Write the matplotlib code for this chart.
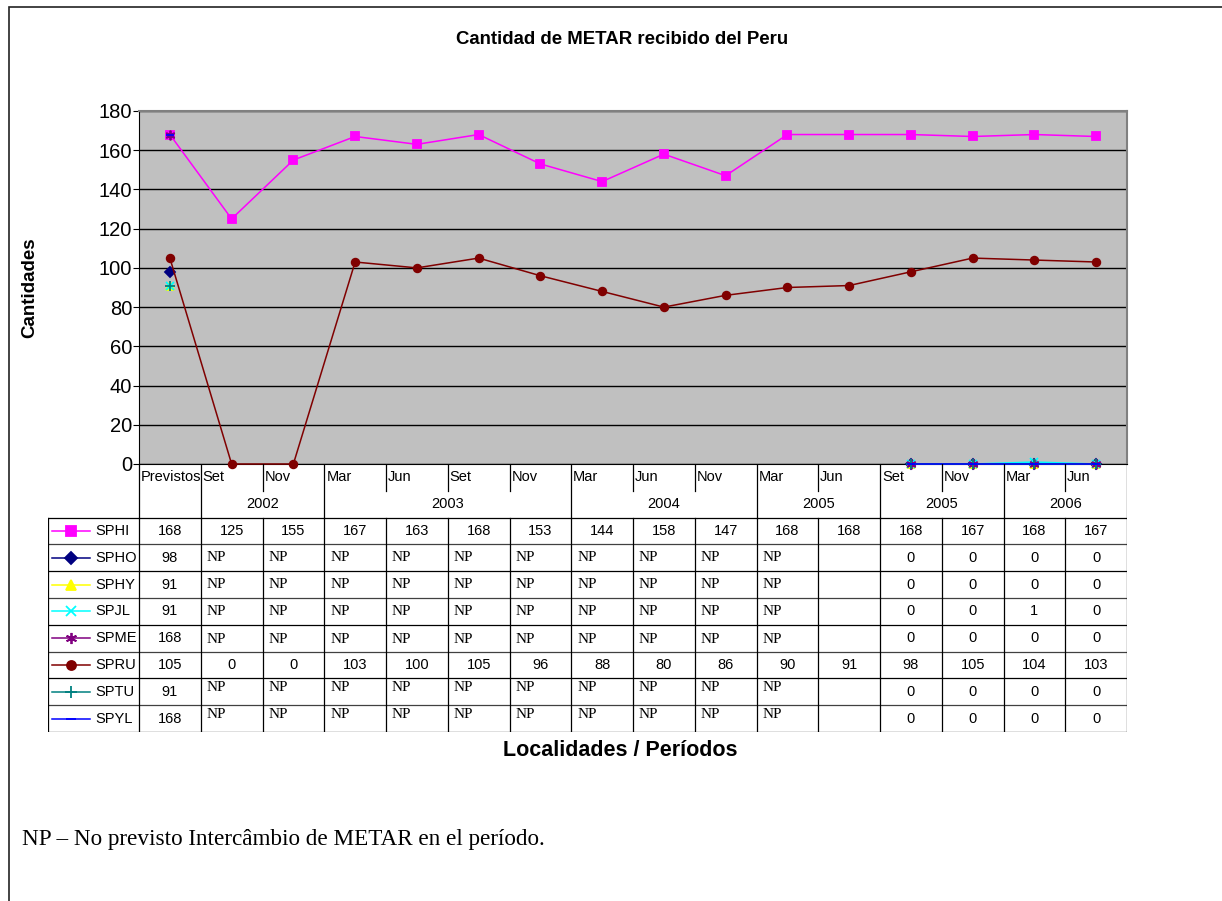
import numpy as np
import matplotlib.pyplot as plt
from matplotlib.patches import Rectangle

# categorias del eje x
periodos = ["Previstos", "Set", "Nov", "Mar", "Jun", "Set", "Nov", "Mar",
            "Jun", "Nov", "Mar", "Jun", "Set", "Nov", "Mar", "Jun"]
anos = [("2002", 1, 2), ("2003", 3, 6), ("2004", 7, 9),
        ("2005", 10, 11), ("2005", 12, 13), ("2006", 14, 15)]

# "NP" = no previsto, "" = celda vacia
estaciones = ["SPHI", "SPHO", "SPHY", "SPJL", "SPME", "SPRU", "SPTU", "SPYL"]
sphi = [168, 125, 155, 167, 163, 168, 153, 144, 158, 147, 168, 168, 168, 167, 168, 167]
spho = [98, "NP", "NP", "NP", "NP", "NP", "NP", "NP", "NP", "NP", "NP", "", 0, 0, 0, 0]
sphy = [91, "NP", "NP", "NP", "NP", "NP", "NP", "NP", "NP", "NP", "NP", "", 0, 0, 0, 0]
spjl = [91, "NP", "NP", "NP", "NP", "NP", "NP", "NP", "NP", "NP", "NP", "", 0, 0, 1, 0]
spme = [168, "NP", "NP", "NP", "NP", "NP", "NP", "NP", "NP", "NP", "NP", "", 0, 0, 0, 0]
spru = [105, 0, 0, 103, 100, 105, 96, 88, 80, 86, 90, 91, 98, 105, 104, 103]
sptu = [91, "NP", "NP", "NP", "NP", "NP", "NP", "NP", "NP", "NP", "NP", "", 0, 0, 0, 0]
spyl = [168, "NP", "NP", "NP", "NP", "NP", "NP", "NP", "NP", "NP", "NP", "", 0, 0, 0, 0]
series = [sphi, spho, sphy, spjl, spme, spru, sptu, spyl]

colores = ["#FF00FF", "#000080", "#FFFF00", "#00FFFF", "#800080", "#800000", "#008080", "#0000FF"]
marcas = ["s", "D", "^", "x", (6, 2, 0), "o", "+", "_"]
tam = [6, 5, 6, 6, 7, 5.5, 7, 6]
np_desv = [0, 0, 0, 0, 0.05, 0, -0.17, -0.15]  # posicion vertical del texto NP

W, H = 1222, 901
sans = "Liberation Sans"
serif = "Liberation Serif"
plt.rcParams["font.family"] = sans

fig = plt.figure(figsize=(W / 100, H / 100), dpi=100)

# marco de la figura
fig.patches.append(Rectangle((9 / W, -0.1), 1.2, 1 - 7 / H + 0.1, transform=fig.transFigure,
                             fill=False, ec="#222222", lw=1.2))

ax = fig.add_axes([139 / W, 1 - 464 / H, 988 / W, 353 / H])
ax.set_facecolor("#C0C0C0")
x = np.arange(len(periodos))
for vals, c, m, s in zip(series, colores, marcas, tam):
    y = np.array([v if isinstance(v, (int, float)) else np.nan for v in vals], dtype=float)
    ax.plot(x, y, color=c, marker=m, ms=s, lw=1.1, mec=c, mfc=c, mew=1.3, clip_on=False, zorder=3)

ax.set_xlim(-0.5, len(periodos) - 0.5)
ax.set_ylim(0, 180)
ax.set_yticks(np.arange(0, 181, 20))
ax.set_xticks([])
ax.yaxis.grid(True, color="black", lw=1)
ax.set_axisbelow(True)
ax.tick_params(axis="y", direction="out", length=4, labelsize=14.5, pad=1)
for s in ["top", "right"]:
    ax.spines[s].set_color("#808080")
    ax.spines[s].set_linewidth(1.5)
for s in ["left", "bottom"]:
    ax.spines[s].set_color("black")

# tabla de datos
colw = 988 / 16
xl = -0.5 - 91 / colw
tab = fig.add_axes([48 / W, 1 - 732 / H, 1079 / W, 268 / H])
tab.set_xlim(xl, 15.5)
tab.set_ylim(10, 0)
tab.axis("off")
lk = dict(color="black", lw=0.9)
nr = len(estaciones)

# cabecera
tab.plot([-0.5, -0.5], [0, 2], **lk)
tab.plot([15.5, 15.5], [0, 2], **lk)
for i, p in enumerate(periodos):
    tab.text(i - 0.5 + 2 / colw, 0.5, p, ha="left", va="center", fontsize=10.5)
for lab, a, b in anos:
    tab.plot([a - 0.5, a - 0.5], [0, 2], **lk)
    for k in range(a + 1, b + 1):
        tab.plot([k - 0.5, k - 0.5], [0, 1], **lk)
    tab.text((a + b) / 2, 1.5, lab, ha="center", va="center", fontsize=10.5)

# filas
for r in range(nr + 1):
    tab.plot([xl, 15.5], [2 + r, 2 + r], color="black" if r % 2 == 0 else "#404040", lw=0.9)
for xv in [xl] + [i - 0.5 for i in range(len(periodos) + 1)]:
    tab.plot([xv, xv], [2, 2 + nr], **lk)

for r, (nom, vals, c, m, s) in enumerate(zip(estaciones, series, colores, marcas, tam)):
    yc = 2.5 + r
    tab.plot([xl + 4 / colw, xl + 42 / colw], [yc, yc], color=c, lw=1.1)
    tab.plot([xl + 23 / colw], [yc], marker=m, ms=s + 1, color=c, mew=1.3)
    tab.text(xl + 47 / colw, yc, nom, ha="left", va="center", fontsize=10.5)
    for i, v in enumerate(vals):
        if v == "NP":
            tab.text(i - 0.5 + 6 / colw, yc + np_desv[r], "NP", ha="left", va="center",
                     fontsize=11, family=serif)
        elif v != "":
            tab.text(i, yc, str(v), ha="center", va="center", fontsize=10.5)

fig.text(622 / W, 1 - 40 / H, "Cantidad de METAR recibido del Peru", ha="center", va="center",
         fontsize=13.4, fontweight="bold")
fig.text(30 / W, 1 - 288 / H, "Cantidades", ha="center", va="center", rotation=90,
         fontsize=13.5, fontweight="bold")
fig.text(620 / W, 1 - 750 / H, "Localidades / Períodos", ha="center", va="center",
         fontsize=15.5, fontweight="bold")
fig.text(22 / W, 1 - 839 / H, "NP – No previsto Intercâmbio de METAR en el período.",
         ha="left", va="center", fontsize=16.7, family=serif)

fig.savefig("out.png", dpi=100)
